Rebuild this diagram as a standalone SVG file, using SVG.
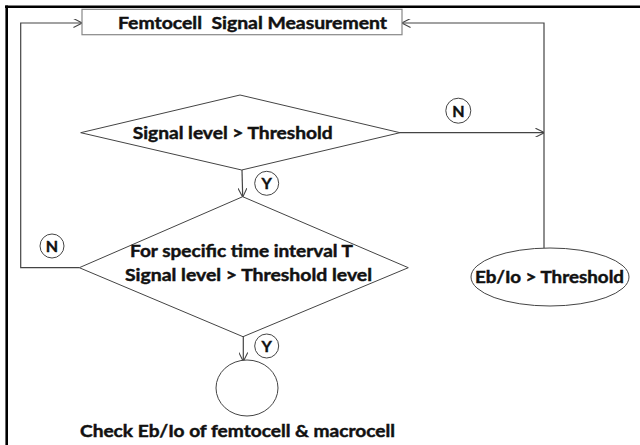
<svg xmlns="http://www.w3.org/2000/svg" width="640" height="445" viewBox="0 0 640 445">
<defs>
<marker id="arr" viewBox="0 0 10 10" refX="9.5" refY="5" markerWidth="9" markerHeight="9" markerUnits="userSpaceOnUse" orient="auto">
<path d="M0,0 L10,5 L0,10" fill="none" stroke="#444" stroke-width="1.2"/>
</marker>
<style>
.ln{fill:none;stroke:#444;stroke-width:1.2}
.sh{fill:#fff;stroke:#444;stroke-width:1}
.tx{font-family:Lato,"Liberation Sans",sans-serif;font-weight:bold;font-size:17px;fill:#111;stroke:#111;stroke-width:0.45}
.lb{font-family:Lato,"Liberation Sans",sans-serif;font-weight:bold;font-size:16px;fill:#111;stroke:#111;stroke-width:0.4;text-anchor:middle}
</style>
</defs>
<rect width="640" height="445" fill="#fff"/>
<g id="frame">
<line x1="5" y1="6.7" x2="640" y2="6.7" stroke="#000" stroke-width="2.6"/>
<line x1="6.7" y1="5.5" x2="6.7" y2="445" stroke="#000" stroke-width="2.6"/>
</g>
<g id="connectors">
<polyline class="ln" points="79.3,267.7 20.7,267.7 20.7,23 82,23" marker-end="url(#arr)"/>
<polyline class="ln" points="544,248 544,23 402,23" marker-end="url(#arr)"/>
<line class="ln" x1="400" y1="132.7" x2="544" y2="132.7" marker-end="url(#arr)"/>
<line class="ln" x1="242" y1="170" x2="242.7" y2="196.7" marker-end="url(#arr)"/>
<line class="ln" x1="243.3" y1="336.7" x2="243.3" y2="361" marker-end="url(#arr)"/>
</g>
<g id="measurement">
<rect x="82" y="9.3" width="320" height="25.4" fill="#fff" stroke="#888" stroke-width="1.2"/>
<text class="tx" x="118" y="28.5" textLength="269" lengthAdjust="spacingAndGlyphs" xml:space="preserve">Femtocell  Signal Measurement</text>
</g>
<g id="decision1">
<polygon class="sh" points="240,95 400,132.7 241.7,170 80.7,132.7"/>
<text class="tx" x="132.7" y="139.3" textLength="200" lengthAdjust="spacingAndGlyphs">Signal level &gt; Threshold</text>
</g>
<g id="decision2">
<polygon class="sh" points="242.7,196.7 408.3,267.7 243,336.7 79.3,267.7"/>
<text class="tx" x="130" y="257" textLength="223" lengthAdjust="spacingAndGlyphs">For specific time interval T</text>
<text class="tx" x="125" y="280.5" textLength="247" lengthAdjust="spacingAndGlyphs">Signal level &gt; Threshold level</text>
</g>
<g id="ebio">
<ellipse class="sh" cx="550" cy="277" rx="79" ry="29"/>
<text class="tx" x="475" y="283" textLength="149" lengthAdjust="spacingAndGlyphs">Eb/Io &gt; Threshold</text>
</g>
<g id="check">
<ellipse class="sh" cx="247" cy="388" rx="31" ry="28"/>
<text class="tx" x="80" y="437" textLength="315" lengthAdjust="spacingAndGlyphs">Check Eb/Io of femtocell &amp; macrocell</text>
</g>
<g id="label-n-right">
<circle class="sh" cx="458.3" cy="110.7" r="12.5"/>
<text class="lb" x="458.3" y="116.5">N</text>
</g>
<g id="label-y1">
<circle class="sh" cx="266.7" cy="183.3" r="12"/>
<text class="lb" x="266.7" y="189">Y</text>
</g>
<g id="label-n-left">
<circle class="sh" cx="52" cy="246" r="12"/>
<text class="lb" x="52" y="251.7">N</text>
</g>
<g id="label-y2">
<circle class="sh" cx="266.7" cy="346" r="12"/>
<text class="lb" x="266.7" y="351.7">Y</text>
</g>
</svg>
